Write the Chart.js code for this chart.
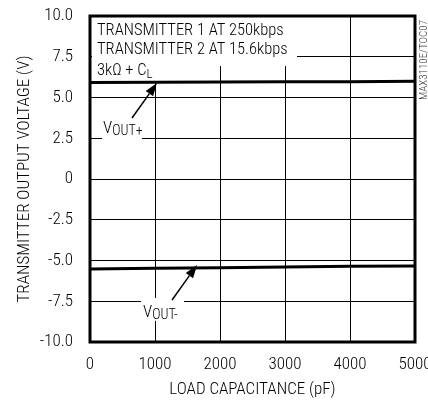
<!DOCTYPE html>
<html lang="en">

<head>
    <meta charset="UTF-8">
    <title>Transmitter Output Voltage vs Load Capacitance</title>
    <style>
        html, body {
            margin: 0;
            padding: 0;
            background: #fff;
            overflow: hidden;
        }

        canvas {
            display: block;
        }
    </style>
</head>

<body>
    <canvas id="chart" width="428" height="402"></canvas>

    <script src="https://cdn.jsdelivr.net/npm/chart.js"></script>
    <script>
        // Data
        var loadCapacitance = [0, 1000, 2000, 3000, 4000, 5000];
        var voutPlus = [5.92, 5.93, 5.95, 5.96, 5.97, 5.99];
        var voutMinus = [-5.52, -5.48, -5.44, -5.40, -5.36, -5.33];

        var yTickValues = [10, 7.5, 5, 2.5, 0, -2.5, -5, -7.5, -10];
        var yTickLabels = ['10.0', '7.5', '5.0', '2.5', '0', '-2.5', '-5.0', '-7.5', '-10.0'];
        var xTickLabels = ['0', '1000', '2000', '3000', '4000', '5000'];

        var FONT = "'Roboto Condensed', 'DejaVu Sans Condensed', sans-serif";
        var WEIGHT = 300;

        function toPoints(xs, ys) {
            return xs.map(function (x, i) {
                return { x: x, y: ys[i] };
            });
        }

        // White boxes behind the annotation text (cover grid lines)
        function whiteBox(chart, x0, y0, x1, y1) {
            var sx = chart.scales.x, sy = chart.scales.y, ctx = chart.ctx;
            var l = sx.getPixelForValue(x0), r = sx.getPixelForValue(x1);
            var t = sy.getPixelForValue(y0), b = sy.getPixelForValue(y1);
            ctx.fillStyle = '#fff';
            ctx.fillRect(l, t, r - l, b - t);
        }

        function setFont(ctx, size) {
            ctx.font = WEIGHT + ' ' + size + 'px ' + FONT;
        }

        function text(chart, str, x, y, size) {
            var ctx = chart.ctx;
            setFont(ctx, size);
            ctx.fillStyle = '#000';
            ctx.textBaseline = 'alphabetic';
            ctx.textAlign = 'left';
            var px = chart.scales.x.getPixelForValue(x);
            var py = chart.scales.y.getPixelForValue(y);
            ctx.fillText(str, px, py);
            return px + ctx.measureText(str).width;
        }

        // label like V_OUT+ : big letter then subscript
        function subLabel(chart, main, sub, x, y) {
            var ctx = chart.ctx;
            var end = text(chart, main, x, y, 17);
            setFont(ctx, 14);
            ctx.fillText(sub, end, chart.scales.y.getPixelForValue(y) + 2);
        }

        function arrow(chart, x0, y0, x1, y1) {
            var sx = chart.scales.x, sy = chart.scales.y, ctx = chart.ctx;
            var ax = sx.getPixelForValue(x0), ay = sy.getPixelForValue(y0);
            var bx = sx.getPixelForValue(x1), by = sy.getPixelForValue(y1);
            var ang = Math.atan2(by - ay, bx - ax);
            var len = 13, half = 4.5;
            ctx.strokeStyle = '#000';
            ctx.fillStyle = '#000';
            ctx.lineWidth = 1.5;
            ctx.beginPath();
            ctx.moveTo(ax, ay);
            ctx.lineTo(bx - Math.cos(ang) * len, by - Math.sin(ang) * len);
            ctx.stroke();
            ctx.beginPath();
            ctx.moveTo(bx, by);
            ctx.lineTo(bx - Math.cos(ang) * len - Math.sin(ang) * half, by - Math.sin(ang) * len + Math.cos(ang) * half);
            ctx.lineTo(bx - Math.cos(ang) * len + Math.sin(ang) * half, by - Math.sin(ang) * len - Math.cos(ang) * half);
            ctx.closePath();
            ctx.fill();
        }

        var annotations = {
            id: 'annotations',
            beforeDatasetsDraw: function (chart) {
                var ctx = chart.ctx;
                ctx.save();
                whiteBox(chart, 30, 9.95, 3185, 6.93);
                whiteBox(chart, 30, 6.93, 1046, 5.9);
                whiteBox(chart, 185, 3.8, 800, 2.3);
                whiteBox(chart, 785, -7.3, 1446, -8.7);

                text(chart, 'TRANSMITTER 1 AT 250kbps', 108, 8.83, 16.5);
                text(chart, 'TRANSMITTER 2 AT 15.6kbps', 108, 7.67, 16.5);
                var end = text(chart, '3k\u03A9 + C', 108, 6.38, 16.5);
                setFont(ctx, 13);
                ctx.fillText('L', end, chart.scales.y.getPixelForValue(6.38) + 3);

                subLabel(chart, 'V', 'OUT+', 200, 2.82);
                subLabel(chart, 'V', 'OUT-', 815, -8.47);
                ctx.restore();
            },
            afterDatasetsDraw: function (chart) {
                var ctx = chart.ctx, a = chart.chartArea;
                ctx.save();
                arrow(chart, 646, 3.74, 1030, 5.89);
                arrow(chart, 1262, -7.42, 1646, -5.28);

                // plot frame
                ctx.strokeStyle = '#000';
                ctx.lineWidth = 3;
                ctx.strokeRect(a.left, a.top, a.right - a.left, a.bottom - a.top);

                // figure code at the right edge
                ctx.translate(a.right + 9, a.top + 44);
                ctx.rotate(-Math.PI / 2);
                setFont(ctx, 11);
                ctx.fillStyle = '#333';
                ctx.textAlign = 'center';
                ctx.textBaseline = 'middle';
                ctx.fillText('MAX3110E/TOC07', 0, 0);
                ctx.restore();
            }
        };

        Chart.defaults.font.family = FONT;
        Chart.defaults.font.weight = WEIGHT;
        Chart.defaults.color = '#000';

        var chart = new Chart(document.getElementById('chart'), {
            type: 'line',
            data: {
                datasets: [{
                    label: 'VOUT+',
                    data: toPoints(loadCapacitance, voutPlus),
                    borderColor: '#000',
                    borderWidth: 3,
                    pointRadius: 0,
                    tension: 0,
                    fill: false
                }, {
                    label: 'VOUT-',
                    data: toPoints(loadCapacitance, voutMinus),
                    borderColor: '#000',
                    borderWidth: 3,
                    pointRadius: 0,
                    tension: 0,
                    fill: false
                }]
            },
            options: {
                responsive: false,
                animation: false,
                devicePixelRatio: 1,
                layout: {
                    padding: { top: 16, right: 13, left: 0, bottom: 0 }
                },
                plugins: {
                    legend: { display: false },
                    tooltip: { enabled: false }
                },
                scales: {
                    x: {
                        type: 'linear',
                        min: 0,
                        max: 5000,
                        afterBuildTicks: function (scale) {
                            scale.ticks = loadCapacitance.map(function (v) { return { value: v }; });
                        },
                        afterFit: function (scale) {
                            scale.height = 60;
                            scale.paddingRight = 0;
                            scale.paddingLeft = 0;
                        },
                        ticks: {
                            maxRotation: 0,
                            autoSkip: false,
                            padding: 13,
                            font: { size: 17, weight: WEIGHT },
                            callback: function (v, i) { return xTickLabels[i]; }
                        },
                        grid: { color: '#000', lineWidth: 1, drawTicks: false },
                        border: { display: false },
                        title: {
                            display: true,
                            text: 'LOAD CAPACITANCE (pF)',
                            font: { size: 17, weight: WEIGHT },
                            padding: { top: 0, bottom: 2 }
                        }
                    },
                    y: {
                        min: -10,
                        max: 10,
                        afterBuildTicks: function (scale) {
                            scale.ticks = yTickValues.map(function (v) { return { value: v }; });
                        },
                        afterFit: function (scale) {
                            scale.width = 90;
                            scale.paddingTop = 0;
                            scale.paddingBottom = 0;
                        },
                        ticks: {
                            autoSkip: false,
                            padding: 17,
                            font: { size: 17, weight: WEIGHT },
                            callback: function (v, i) { return yTickLabels[i]; }
                        },
                        grid: { color: '#000', lineWidth: 1, drawTicks: false },
                        border: { display: false },
                        title: {
                            display: true,
                            text: 'TRANSMITTER OUTPUT VOLTAGE (V)',
                            font: { size: 17, weight: WEIGHT },
                            padding: { top: 15, bottom: 0 }
                        }
                    }
                }
            },
            plugins: [annotations]
        });
    </script>
</body>

</html>
